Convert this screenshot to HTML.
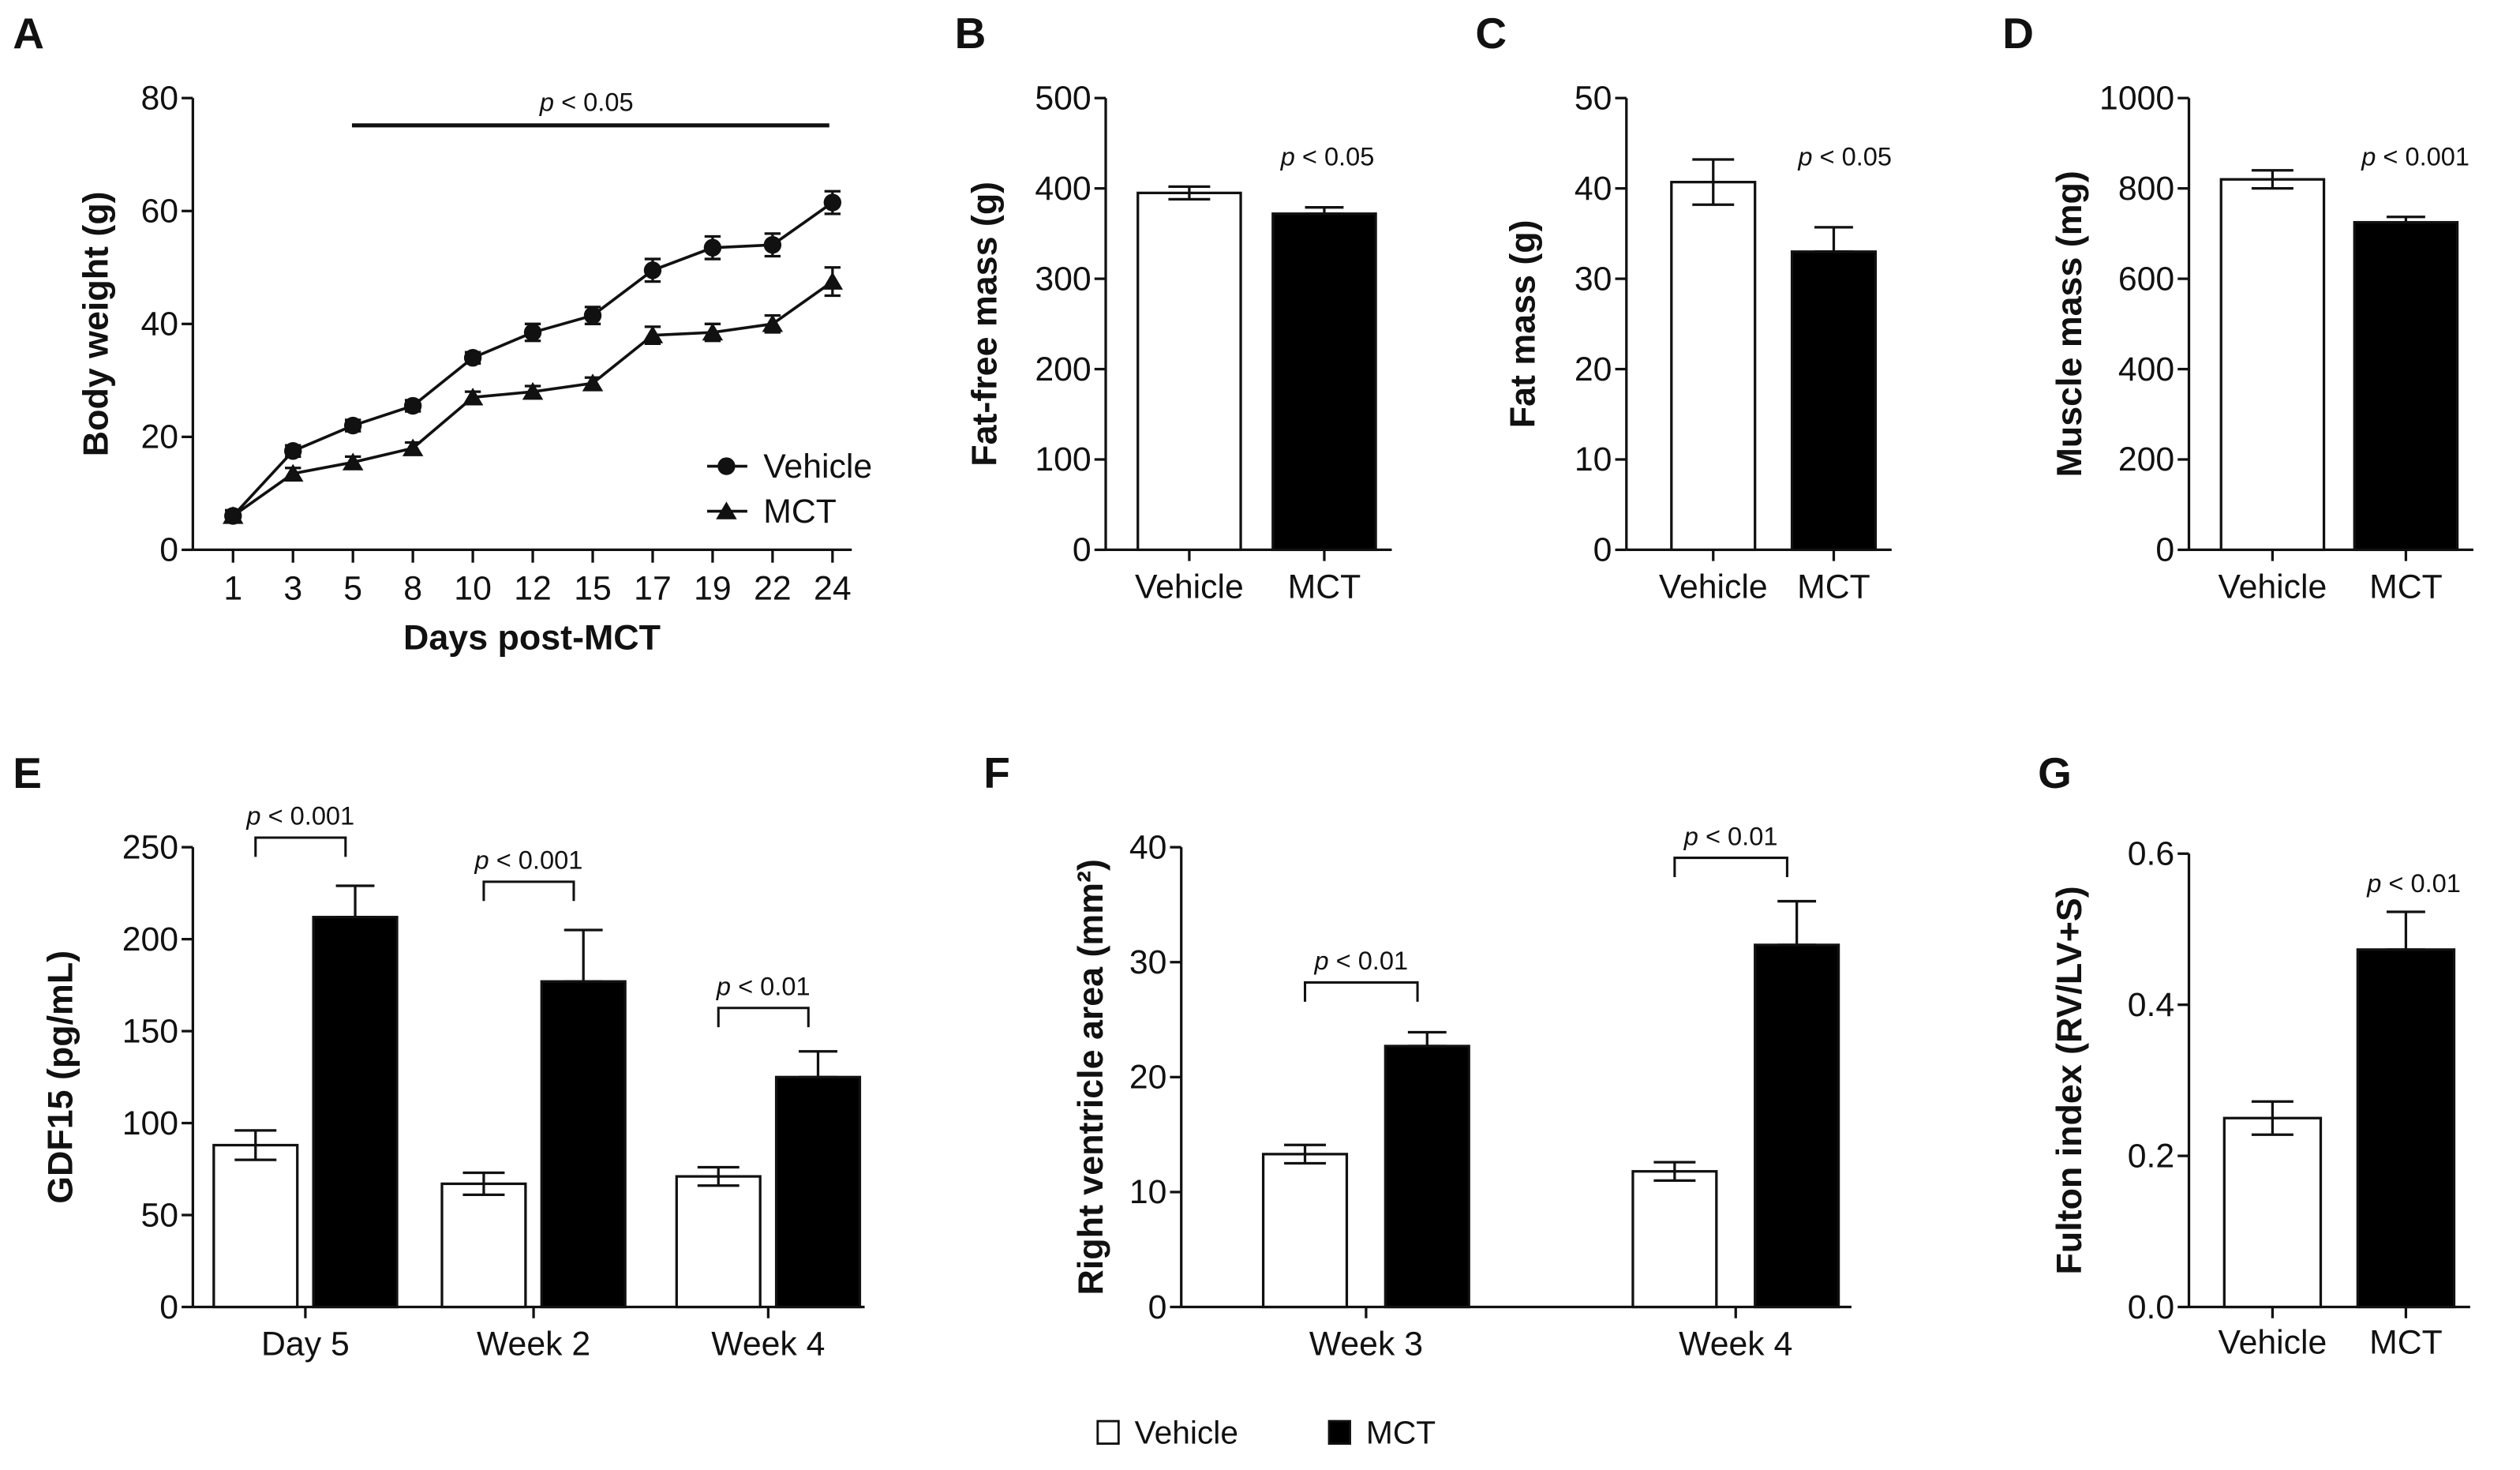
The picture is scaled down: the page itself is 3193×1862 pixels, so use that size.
<!DOCTYPE html>
<html><head><meta charset="utf-8"><style>
html,body{margin:0;padding:0;background:#fff;}
svg{display:block;}
text{font-family:"Liberation Sans Narrow","Liberation Sans",sans-serif;fill:#111;}
.b{font-family:"Liberation Sans",sans-serif;font-weight:bold;}
</style></head><body>
<svg id="fig" xmlns="http://www.w3.org/2000/svg" width="3193" height="1862" viewBox="0 0 1568 914.4" preserveAspectRatio="none"></svg>
<script>
// ---- Panel A data ----
const daysA = ["1","3","5","8","10","12","15","17","19","22","24"];
const vehA = [6,17.5,22,25.5,34,38.5,41.5,49.5,53.5,54,61.5];
const vehAerr = [1,1,1,1,1,1.5,1.5,2,2,2,2];
const mctA = [6,13.5,15.5,18,27,28,29.5,38,38.5,40,47.5];
const mctAerr = [1,1,1,1,1,1,1,1.5,1.5,1.5,2.5];
const ticksA = [0,20,40,60,80];
// ---- Panel B/C/D data ----
const groupsBD = ["Vehicle","MCT"];
const valB = [395,372]; const errB = [7,7]; const ticksB=[0,100,200,300,400,500];
const valC = [40.7,33]; const errC = [2.5,2.7]; const ticksC=[0,10,20,30,40,50];
const valD = [820,725]; const errD = [20,12]; const ticksD=[0,200,400,600,800,1000];
// ---- Panel E ----
const catsE = ["Day 5","Week 2","Week 4"];
const vehE = [88,67,71]; const vehEerr=[8,6,5];
const mctE = [212,177,125]; const mctEerr=[17,28,14];
const ticksE=[0,50,100,150,200,250];
const pE=["p < 0.001","p < 0.001","p < 0.01"];
// ---- Panel F ----
const catsF = ["Week 3","Week 4"];
const vehF=[13.3,11.8]; const vehFerr=[0.8,0.8];
const mctF=[22.7,31.5]; const mctFerr=[1.2,3.8];
const ticksF=[0,10,20,30,40];
const pF=["p < 0.01","p < 0.01"];
// ---- Panel G ----
const valG=[0.25,0.473]; const errG=[0.022,0.05];
const ticksG=[0,0.2,0.4,0.6];

const NS="http://www.w3.org/2000/svg";
const svg=document.getElementById('fig');
function el(tag,attrs,parent){const e=document.createElementNS(NS,tag);for(const k in attrs)e.setAttribute(k,attrs[k]);(parent||svg).appendChild(e);return e;}
function txt(x,y,s,size,anchor,cls,parent){const t=el('text',{x:x,y:y,'font-size':size,'text-anchor':anchor||'middle'},parent);if(cls)t.setAttribute('class',cls);t.textContent=s;return t;}
function ptext(x,y,s,size,parent){
  const t=el('text',{x:x,y:y,'font-size':size,'text-anchor':'middle'},parent);
  const a=document.createElementNS(NS,'tspan');a.setAttribute('font-style','italic');a.textContent='p';t.appendChild(a);
  const b=document.createElementNS(NS,'tspan');b.textContent=s.slice(1);t.appendChild(b);return t;}
function lin(x1,y1,x2,y2,w,parent){return el('line',{x1,y1,x2,y2,stroke:'#111','stroke-width':w||1.6},parent);}

function yAxis(g,ax,y0,y1,ticks,maxv,title,titleX,fmt){
  const sy=v=>y0-(v/maxv)*(y0-y1);
  lin(ax,y0,ax,y1,1.6,g);
  ticks.forEach(v=>{const y=sy(v);lin(ax-7,y,ax,y,1.6,g);
    const t=txt(ax-9,y+7,fmt?fmt(v):String(v),21,'end',null,g);
    });
  const tt=txt(0,0,title,22,'middle','b',g);
  tt.setAttribute('transform',`translate(${titleX},${(y0+y1)/2}) rotate(-90)`);
  
  return sy;
}
function bar(g,cx,w,y0,yv,fill,name){
  const r=el('rect',{x:cx-w/2,y:yv,width:w,height:y0-yv,fill:fill,stroke:'#111','stroke-width':1.6},g);
  
}
function errbar(g,cx,ya,yb,hw){lin(cx,ya,cx,yb,1.6,g);lin(cx-hw,ya,cx+hw,ya,1.6,g);lin(cx-hw,yb,cx+hw,yb,1.6,g);}
function letter(x,y,s){const t=txt(x,y,s,27,'start','b');}

// ===== Panel A =====
(function(){
  const g=el('g',{});
  const ax=120,y0=342,y1=61;
  const sy=yAxis(g,ax,y0,y1,ticksA,80,'Body weight (g)',67);
  lin(ax,y0,530,y0,1.6,g);
  const sx=i=>145+i*37.3;
  daysA.forEach((d,i)=>{lin(sx(i),y0,sx(i),y0+8,1.6,g);const t=txt(sx(i),y0+31,d,21,'middle',null,g);});
  const xt=txt(331,404,'Days post-MCT',22,'middle','b',g);
  lin(219,78,516,78,2.5,g);ptext(365,69,'p < 0.05',16,g);
  function series(vals,errs,marker,name){
    const pts=vals.map((v,i)=>sx(i)+','+sy(v)).join(' ');
    const pl=el('polyline',{points:pts,fill:'none',stroke:'#111','stroke-width':1.8},g);
    
    vals.forEach((v,i)=>{errbar(g,sx(i),sy(v+errs[i]),sy(v-errs[i]),5);
      const x=sx(i),y=sy(v);let m;
      if(marker==='c')m=el('circle',{cx:x,cy:y,r:5.5,fill:'#111'},g);
      else m=el('polygon',{points:`${x},${y-6} ${x-6.5},${y+5} ${x+6.5},${y+5}`,fill:'#111'},g);
      });
  }
  series(vehA,vehAerr,'c','vehicle');
  series(mctA,mctAerr,'t','mct');
  const lg=el('g',{},g);
  lin(440,290,465,290,1.8,lg);el('circle',{cx:452,cy:290,r:5.5,fill:'#111'},lg);txt(475,297,'Vehicle',21,'start',null,lg);
  lin(440,318,465,318,1.8,lg);el('polygon',{points:'452,312 445.5,323 458.5,323',fill:'#111'},lg);txt(475,325,'MCT',21,'start',null,lg);
})();
letter(8,30,'A');

// ===== Two-bar panels =====
function twoBar(name,ax,c1,c2,w,vals,errs,ticks,maxv,title,titleX,pstr,px,py,y0,y1,fmt,labY){
  const g=el('g',{});
  const sy=yAxis(g,ax,y0,y1,ticks,maxv,title,titleX,fmt);
  lin(ax,y0,c2+w/2+10,y0,1.6,g);
  [c1,c2].forEach((c,i)=>{
    bar(g,c,w,y0,sy(vals[i]),i===0?'#fff':'#000','bar-'+groupsBD[i].toLowerCase());
    errbar(g,c,sy(vals[i]+errs[i]),i===0?sy(vals[i]-errs[i]):sy(vals[i]),i===0?13:12);
    lin(c,y0,c,y0+7,1.6,g);
    const t=txt(c,labY||y0+30,groupsBD[i],21,'middle',null,g);
  });
  ptext(px,py,pstr,16,g);
}
twoBar('panel-b-fat-free-mass',688,740,824,64,valB,errB,ticksB,500,'Fat-free mass (g)',620,'p < 0.05',826,103,342,61);
letter(594,30,'B');
twoBar('panel-c-fat-mass',1012,1066,1141,52,valC,errC,ticksC,50,'Fat mass (g)',955,'p < 0.05',1148,103,342,61);
letter(918,30,'C');
twoBar('panel-d-muscle-mass',1362,1414,1497,64,valD,errD,ticksD,1000,'Muscle mass (mg)',1295,'p < 0.001',1503,103,342,61);
letter(1246,30,'D');
twoBar('panel-g-fulton-index',1362,1414,1497,60,valG,errG,ticksG,0.6,'Fulton index (RV/LV+S)',1295,'p < 0.01',1502,555,813,531,v=>v.toFixed(1),842);
letter(1268,490,'G');

// ===== Grouped bar panels =====
function grouped(name,ax,axEnd,cats,centers,off,w,veh,vehErr,mct,mctErr,ticks,maxv,title,titleX,ps){
  const y0=813,y1=527;
  const g=el('g',{});
  const sy=yAxis(g,ax,y0,y1,ticks,maxv,title,titleX);
  lin(ax,y0,axEnd,y0,1.6,g);
  cats.forEach((c,i)=>{
    const cx=centers[i],v1=cx-off,v2=cx+off;
    bar(g,v1,w,y0,sy(veh[i]),'#fff','bar-vehicle-'+c.toLowerCase().replace(' ','-'));
    bar(g,v2,w,y0,sy(mct[i]),'#000','bar-mct-'+c.toLowerCase().replace(' ','-'));
    errbar(g,v1,sy(veh[i]+vehErr[i]),sy(veh[i]-vehErr[i]),13);
    errbar(g,v2,sy(mct[i]+mctErr[i]),sy(mct[i]),12);
    lin(cx,y0,cx,y0+7,1.6,g);
    const t=txt(cx,y0+30,c,21,'middle',null,g);
    const top=Math.min(sy(mct[i]+mctErr[i]),sy(veh[i]+vehErr[i]));
    const by=top-ps[i].gap;
    const br=el('polyline',{points:`${v1},${by+12} ${v1},${by} ${v2-6},${by} ${v2-6},${by+12}`,fill:'none',stroke:'#111','stroke-width':1.5},g);
    
    ptext((v1+v2-6)/2,by-8,ps[i].s,16,g);
  });
}
grouped('panel-e-gdf15',120,538,catsE,[190,332,478],31,52,vehE,vehEerr,mctE,mctEerr,ticksE,250,'GDF15 (pg/mL)',45,
  [{s:pE[0],gap:30},{s:pE[1],gap:30},{s:pE[2],gap:27}]);
letter(8,490,'E');
grouped('panel-f-rv-area',735,1152,catsF,[850,1080],38,52,vehF,vehFerr,mctF,mctFerr,ticksF,40,'Right ventricle area (mm²)',686,
  [{s:pF[0],gap:31},{s:pF[1],gap:27}]);
letter(612,490,'F');

// bottom legend
(function(){
  const g=el('g',{});
  el('rect',{x:683,y:884,width:13,height:14,fill:'#fff',stroke:'#111','stroke-width':1.4},g);
  txt(706,898,'Vehicle',20,'start',null,g);
  el('rect',{x:827,y:884,width:13,height:14,fill:'#000',stroke:'#111','stroke-width':1.4},g);
  txt(850,898,'MCT',20,'start',null,g);
})();
</script>
</body></html>
